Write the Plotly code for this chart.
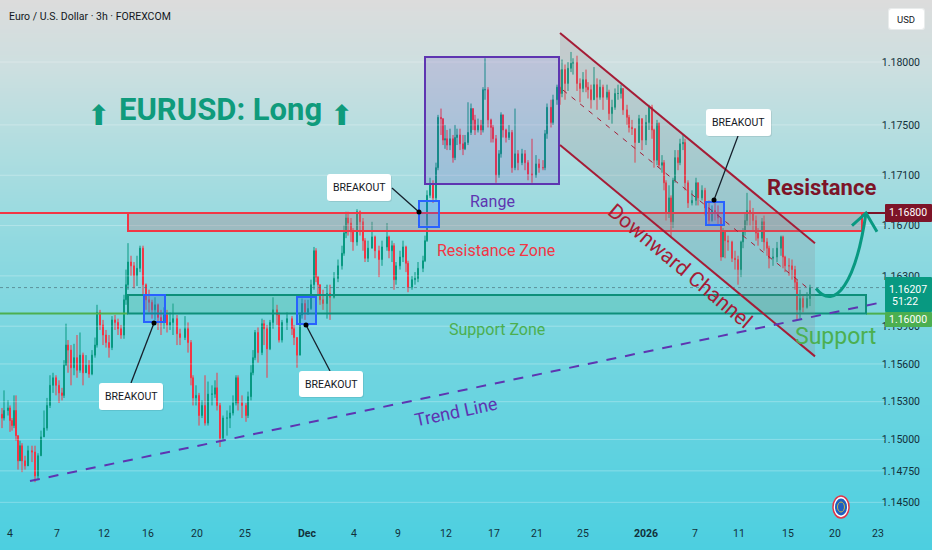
import plotly.graph_objects as go

W, H = 932, 550

# bar position along the time scale (one unit per screen pixel of the original)
bar_x = [2, 4, 8, 10, 12, 14, 16, 18, 20, 22, 25, 28, 32, 35, 38, 41, 44, 47, 50, 53,
         56, 59, 62, 64, 66, 68, 71, 74, 77, 80, 83, 86, 89, 92, 95, 97, 100, 103, 106, 109,
         112, 115, 118, 121, 124, 126, 128, 131, 134, 137, 140, 143, 146, 149, 152, 155, 158, 161, 164, 167,
         170, 173, 177, 180, 185, 188, 191, 193, 196, 199, 202, 205, 208, 212, 215, 217, 220, 223, 227, 230,
         233, 236, 238, 242, 246, 248, 251, 253, 255, 258, 262, 264, 267, 270, 273, 277, 279, 282, 287, 292,
         294, 297, 300, 302, 305, 308, 311, 314, 316, 318, 320, 323, 327, 330, 334, 338, 342, 344, 346, 348,
         351, 353, 357, 360, 363, 365, 368, 372, 375, 379, 382, 387, 389, 392, 394, 396, 400, 403, 406, 408,
         412, 415, 418, 423, 425, 427, 430, 433, 436, 438, 441, 443, 445, 447, 450, 453, 455, 457, 460, 463,
         465, 468, 471, 473, 475, 478, 481, 483, 485, 488, 491, 493, 496, 499, 501, 503, 506, 509, 512, 515,
         518, 522, 525, 528, 532, 536, 539, 543, 545, 547, 551, 553, 557, 560, 562, 565, 568, 571, 573, 577,
         580, 583, 586, 588, 591, 594, 597, 600, 603, 607, 609, 612, 615, 618, 621, 623, 627, 629, 632, 635,
         639, 642, 646, 649, 652, 654, 657, 659, 662, 664, 666, 669, 671, 673, 675, 678, 680, 683, 685, 688,
         692, 696, 698, 702, 705, 709, 712, 715, 718, 721, 723, 725, 728, 732, 735, 738, 741, 743, 745, 747,
         750, 753, 756, 758, 762, 764, 767, 769, 773, 777, 781, 783, 785, 789, 792, 795, 797, 800, 803, 807,
         810]

close = [1.1517, 1.1523, 1.1525, 1.1515, 1.1511, 1.1523, 1.1503, 1.1483, 1.1495, 1.1483, 1.1479, 1.1491, 1.1490, 1.1471, 1.1487, 1.1502, 1.1509, 1.1527, 1.1543, 1.1549,
         1.1543, 1.1537, 1.1535, 1.1559, 1.1575, 1.1571, 1.1557, 1.1565, 1.1555, 1.1567, 1.1553, 1.1559, 1.1552, 1.1567, 1.1575, 1.1601, 1.1591, 1.1583, 1.1577, 1.1573,
         1.1595, 1.1593, 1.1588, 1.1583, 1.1611, 1.1623, 1.1641, 1.1638, 1.1630, 1.1636, 1.1652, 1.1623, 1.1611, 1.1609, 1.1603, 1.1607, 1.1597, 1.1593, 1.1599, 1.1591,
         1.1593, 1.1596, 1.1584, 1.1581, 1.1588, 1.1577, 1.1549, 1.1533, 1.1535, 1.1519, 1.1527, 1.1513, 1.1536, 1.1536, 1.1541, 1.1527, 1.1501, 1.1517, 1.1517, 1.1521,
         1.1529, 1.1549, 1.1529, 1.1527, 1.1519, 1.1534, 1.1553, 1.1565, 1.1585, 1.1569, 1.1592, 1.1588, 1.1572, 1.1593, 1.1603, 1.1599, 1.1579, 1.1593, 1.1596, 1.1588,
         1.1581, 1.1567, 1.1599, 1.1608, 1.1601, 1.1604, 1.1623, 1.1650, 1.1629, 1.1623, 1.1611, 1.1608, 1.1616, 1.1613, 1.1628, 1.1638, 1.1648, 1.1664, 1.1676, 1.1672,
         1.1665, 1.1657, 1.1681, 1.1673, 1.1658, 1.1644, 1.1652, 1.1661, 1.1650, 1.1643, 1.1653, 1.1661, 1.1650, 1.1654, 1.1627, 1.1638, 1.1645, 1.1653, 1.1640, 1.1621,
         1.1627, 1.1628, 1.1636, 1.1642, 1.1658, 1.1694, 1.1703, 1.1692, 1.1716, 1.1756, 1.1755, 1.1738, 1.1739, 1.1734, 1.1739, 1.1724, 1.1740, 1.1742, 1.1735, 1.1731,
         1.1736, 1.1744, 1.1763, 1.1754, 1.1746, 1.1750, 1.1746, 1.1778, 1.1778, 1.1754, 1.1748, 1.1739, 1.1710, 1.1727, 1.1758, 1.1746, 1.1740, 1.1744, 1.1716, 1.1727,
         1.1720, 1.1727, 1.1720, 1.1711, 1.1710, 1.1719, 1.1716, 1.1716, 1.1743, 1.1764, 1.1752, 1.1770, 1.1780, 1.1775, 1.1794, 1.1783, 1.1795, 1.1799, 1.1800, 1.1783,
         1.1779, 1.1786, 1.1780, 1.1778, 1.1770, 1.1782, 1.1772, 1.1780, 1.1772, 1.1776, 1.1759, 1.1764, 1.1775, 1.1775, 1.1779, 1.1762, 1.1756, 1.1748, 1.1747, 1.1736,
         1.1755, 1.1738, 1.1752, 1.1764, 1.1746, 1.1722, 1.1751, 1.1718, 1.1720, 1.1704, 1.1680, 1.1692, 1.1673, 1.1706, 1.1724, 1.1720, 1.1735, 1.1736, 1.1704, 1.1688,
         1.1690, 1.1704, 1.1692, 1.1698, 1.1684, 1.1674, 1.1682, 1.1680, 1.1676, 1.1645, 1.1665, 1.1658, 1.1657, 1.1644, 1.1643, 1.1635, 1.1657, 1.1665, 1.1674, 1.1682,
         1.1680, 1.1674, 1.1664, 1.1660, 1.1673, 1.1657, 1.1652, 1.1644, 1.1645, 1.1652, 1.1661, 1.1645, 1.1638, 1.1638, 1.1635, 1.1625, 1.1603, 1.1612, 1.1605, 1.1612,
         1.16207]

high = [1.1525, 1.1539, 1.1531, 1.1527, 1.1517, 1.1535, 1.1535, 1.1499, 1.1499, 1.1497, 1.1487, 1.1495, 1.1495, 1.1495, 1.1489, 1.1507, 1.1523, 1.1533, 1.1551, 1.1553,
        1.1551, 1.1547, 1.1541, 1.1563, 1.1592, 1.1579, 1.1575, 1.1576, 1.1583, 1.1585, 1.1569, 1.1567, 1.1563, 1.1571, 1.1581, 1.1607, 1.1603, 1.1595, 1.1587, 1.1583,
        1.1598, 1.1599, 1.1596, 1.1591, 1.1615, 1.1635, 1.1656, 1.1646, 1.1641, 1.1646, 1.1654, 1.1654, 1.1624, 1.1619, 1.1611, 1.1613, 1.1608, 1.1603, 1.1605, 1.1603,
        1.1601, 1.1608, 1.1599, 1.1588, 1.1598, 1.1593, 1.1579, 1.1551, 1.1543, 1.1537, 1.1531, 1.1551, 1.1546, 1.1543, 1.1547, 1.1553, 1.1529, 1.1519, 1.1523, 1.1527,
        1.1535, 1.1551, 1.1551, 1.1535, 1.1529, 1.1538, 1.1559, 1.1571, 1.1587, 1.1589, 1.1596, 1.1595, 1.1591, 1.1595, 1.1613, 1.1607, 1.1601, 1.1595, 1.1601, 1.1598,
        1.1591, 1.1581, 1.1601, 1.1612, 1.1611, 1.1611, 1.1627, 1.1653, 1.1652, 1.1630, 1.1623, 1.1619, 1.1623, 1.1623, 1.1633, 1.1643, 1.1654, 1.1670, 1.1681, 1.1681,
        1.1676, 1.1668, 1.1683, 1.1682, 1.1676, 1.1660, 1.1658, 1.1673, 1.1662, 1.1654, 1.1658, 1.1672, 1.1662, 1.1658, 1.1656, 1.1641, 1.1650, 1.1658, 1.1654, 1.1642,
        1.1630, 1.1633, 1.1641, 1.1646, 1.1662, 1.1698, 1.1708, 1.1706, 1.1720, 1.1758, 1.1763, 1.1755, 1.1750, 1.1746, 1.1747, 1.1742, 1.1750, 1.1747, 1.1747, 1.1742,
        1.1742, 1.1768, 1.1767, 1.1763, 1.1758, 1.1755, 1.1754, 1.1780, 1.1803, 1.1780, 1.1755, 1.1750, 1.1742, 1.1730, 1.1760, 1.1758, 1.1747, 1.1750, 1.1746, 1.1763,
        1.1730, 1.1731, 1.1730, 1.1722, 1.1739, 1.1726, 1.1723, 1.1722, 1.1746, 1.1767, 1.1770, 1.1774, 1.1782, 1.1794, 1.1802, 1.1798, 1.1800, 1.1808, 1.1803, 1.1805,
        1.1787, 1.1792, 1.1794, 1.1784, 1.1782, 1.1796, 1.1787, 1.1786, 1.1782, 1.1782, 1.1778, 1.1770, 1.1779, 1.1782, 1.1782, 1.1779, 1.1766, 1.1758, 1.1754, 1.1747,
        1.1758, 1.1755, 1.1758, 1.1766, 1.1766, 1.1747, 1.1754, 1.1752, 1.1726, 1.1722, 1.1706, 1.1702, 1.1694, 1.1708, 1.1730, 1.1730, 1.1739, 1.1742, 1.1739, 1.1706,
        1.1698, 1.1708, 1.1702, 1.1702, 1.1700, 1.1690, 1.1686, 1.1690, 1.1686, 1.1670, 1.1668, 1.1665, 1.1662, 1.1658, 1.1650, 1.1646, 1.1658, 1.1668, 1.1680, 1.1696,
        1.1690, 1.1684, 1.1678, 1.1668, 1.1676, 1.1678, 1.1660, 1.1654, 1.1652, 1.1657, 1.1662, 1.1662, 1.1646, 1.1644, 1.1643, 1.1638, 1.1627, 1.1619, 1.1615, 1.1617,
        1.1623]

low = [1.1509, 1.1515, 1.1519, 1.1506, 1.1507, 1.1509, 1.1499, 1.1476, 1.1487, 1.1474, 1.1476, 1.1482, 1.1482, 1.1466, 1.1468, 1.1487, 1.1502, 1.1507, 1.1525, 1.1537,
       1.1535, 1.1529, 1.1531, 1.1533, 1.1559, 1.1553, 1.1543, 1.1551, 1.1549, 1.1553, 1.1543, 1.1553, 1.1549, 1.1551, 1.1565, 1.1573, 1.1587, 1.1575, 1.1573, 1.1565,
       1.1571, 1.1587, 1.1583, 1.1580, 1.1580, 1.1607, 1.1619, 1.1630, 1.1620, 1.1622, 1.1633, 1.1615, 1.1603, 1.1601, 1.1596, 1.1595, 1.1587, 1.1583, 1.1588, 1.1585,
       1.1587, 1.1583, 1.1575, 1.1575, 1.1579, 1.1569, 1.1543, 1.1527, 1.1527, 1.1511, 1.1517, 1.1511, 1.1511, 1.1527, 1.1533, 1.1523, 1.1494, 1.1499, 1.1503, 1.1509,
       1.1519, 1.1527, 1.1523, 1.1517, 1.1514, 1.1517, 1.1531, 1.1551, 1.1563, 1.1561, 1.1567, 1.1575, 1.1549, 1.1571, 1.1588, 1.1591, 1.1577, 1.1577, 1.1587, 1.1583,
       1.1575, 1.1557, 1.1567, 1.1596, 1.1595, 1.1599, 1.1603, 1.1619, 1.1625, 1.1615, 1.1607, 1.1603, 1.1596, 1.1595, 1.1612, 1.1625, 1.1635, 1.1646, 1.1660, 1.1662,
       1.1657, 1.1650, 1.1654, 1.1662, 1.1650, 1.1641, 1.1641, 1.1652, 1.1644, 1.1629, 1.1638, 1.1650, 1.1644, 1.1641, 1.1619, 1.1623, 1.1635, 1.1641, 1.1633, 1.1617,
       1.1619, 1.1623, 1.1625, 1.1633, 1.1641, 1.1657, 1.1692, 1.1688, 1.1690, 1.1714, 1.1742, 1.1734, 1.1731, 1.1730, 1.1730, 1.1720, 1.1722, 1.1734, 1.1730, 1.1726,
       1.1730, 1.1734, 1.1742, 1.1746, 1.1742, 1.1744, 1.1742, 1.1744, 1.1770, 1.1748, 1.1736, 1.1736, 1.1704, 1.1708, 1.1724, 1.1740, 1.1736, 1.1738, 1.1712, 1.1714,
       1.1714, 1.1718, 1.1714, 1.1706, 1.1704, 1.1708, 1.1712, 1.1714, 1.1714, 1.1739, 1.1748, 1.1750, 1.1766, 1.1766, 1.1772, 1.1770, 1.1777, 1.1792, 1.1790, 1.1777,
       1.1768, 1.1776, 1.1776, 1.1771, 1.1763, 1.1770, 1.1762, 1.1770, 1.1762, 1.1770, 1.1754, 1.1751, 1.1762, 1.1770, 1.1771, 1.1758, 1.1750, 1.1744, 1.1742, 1.1720,
       1.1738, 1.1730, 1.1734, 1.1746, 1.1739, 1.1716, 1.1718, 1.1716, 1.1712, 1.1698, 1.1674, 1.1676, 1.1661, 1.1668, 1.1704, 1.1714, 1.1718, 1.1730, 1.1698, 1.1684,
       1.1686, 1.1686, 1.1686, 1.1690, 1.1678, 1.1670, 1.1673, 1.1674, 1.1670, 1.1642, 1.1650, 1.1644, 1.1650, 1.1641, 1.1635, 1.1623, 1.1629, 1.1652, 1.1662, 1.1670,
       1.1670, 1.1665, 1.1658, 1.1654, 1.1657, 1.1650, 1.1646, 1.1636, 1.1638, 1.1641, 1.1646, 1.1636, 1.1633, 1.1630, 1.1627, 1.1619, 1.1595, 1.1596, 1.1601, 1.1604,
       1.1606]

first_open = 1.1520
open_ = [first_open] + close[:-1]

y_ticks = [1.18, 1.175, 1.171, 1.167, 1.163, 1.159, 1.156, 1.153, 1.15, 1.1475, 1.145]
x_tick_pos = [10, 57, 104, 148, 197, 245, 307, 354, 398, 446, 494, 537, 583, 646, 695, 739, 788, 835, 878]
x_tick_text = ['4', '7', '12', '16', '20', '25', '<b>Dec</b>', '4', '9', '12', '17', '21', '25',
               '<b>2026</b>', '7', '11', '15', '20', '23']

bg_stops = [[0.0, '#dcdcdc'], [0.12, '#cddfe0'], [0.28, '#aedde0'], [0.45, '#8fd9e0'],
            [0.65, '#72d5e0'], [0.82, '#5fd2e0'], [1.0, '#4ccfe0']]

RED = '#f23645'
TEAL = '#089981'
GREEN = '#4caf50'
PURPLE = '#5e35b1'
BLUE = '#2962ff'
DARK_RED = '#a51c36'
MAROON = '#7d1428'
SMALL_FONT = 'Roboto, sans-serif'
TEXT_FONT = 'Roboto, sans-serif'

fig = go.Figure()

# background, a vertical wash behind everything
fig.add_trace(go.Heatmap(x=[0, W], y=[1.14121, 1.18493], z=[[1, 1], [0, 0]],
                         colorscale=bg_stops, showscale=False, zsmooth='best', hoverinfo='skip'))

fig.add_trace(go.Candlestick(x=bar_x, open=open_, high=high, low=low, close=close,
                             whiskerwidth=0,
                             increasing=dict(line=dict(color=TEAL, width=1), fillcolor=TEAL),
                             decreasing=dict(line=dict(color=RED, width=1), fillcolor=RED),
                             showlegend=False))

shapes = []
annotations = []


def line(x0, y0, x1, y1, color, width=1, dash='solid'):
    shapes.append(dict(type='line', x0=x0, y0=y0, x1=x1, y1=y1, xref='x', yref='y',
                       line=dict(color=color, width=width, dash=dash)))


def rect(x0, y0, x1, y1, color, fill, width=2):
    shapes.append(dict(type='rect', x0=x0, y0=y0, x1=x1, y1=y1, xref='x', yref='y',
                       line=dict(color=color, width=width), fillcolor=fill))


def note(text, px, py, size, color, font=TEXT_FONT, angle=0, xanchor='center'):
    # px, py are in screen pixels, top left origin
    annotations.append(dict(text=text, x=px / W, y=1 - py / H, xref='paper', yref='paper',
                            showarrow=False, textangle=angle, xanchor=xanchor, yanchor='middle',
                            font=dict(size=size, color=color, family=font)))


def fx(px):
    return px / W


def fy(py):
    return 1 - py / H


def round_box(x0, y0, x1, y1, fill, r=3):
    path = (f'M {fx(x0 + r)} {fy(y0)} L {fx(x1 - r)} {fy(y0)} Q {fx(x1)} {fy(y0)} {fx(x1)} {fy(y0 + r)} '
            f'L {fx(x1)} {fy(y1 - r)} Q {fx(x1)} {fy(y1)} {fx(x1 - r)} {fy(y1)} '
            f'L {fx(x0 + r)} {fy(y1)} Q {fx(x0)} {fy(y1)} {fx(x0)} {fy(y1 - r)} '
            f'L {fx(x0)} {fy(y0 + r)} Q {fx(x0)} {fy(y0)} {fx(x0 + r)} {fy(y0)} Z')
    shapes.append(dict(type='path', path=path, xref='paper', yref='paper', fillcolor=fill,
                       line=dict(width=0)))


def circle(cx, cy, rx, ry, fill, edge=None, width=0):
    shapes.append(dict(type='circle', x0=fx(cx - rx), x1=fx(cx + rx), y0=fy(cy + ry), y1=fy(cy - ry),
                       xref='paper', yref='paper', fillcolor=fill,
                       line=dict(color=edge or fill, width=width)))


def breakout(x0, y0, x1, y1, lx0, ly0, dot_x, dot_y):
    shapes.append(dict(type='line', x0=fx(lx0), y0=fy(ly0), x1=fx(dot_x), y1=fy(dot_y),
                       xref='paper', yref='paper', line=dict(color='#16202c', width=1.3)))
    circle(dot_x, dot_y, 2.5, 2.5, '#000000')
    round_box(x0 + 1, y0 + 1, x1 + 1, y1 + 1, 'rgba(0,0,0,0.08)')
    round_box(x0, y0, x1, y1, '#ffffff')
    note('BREAKOUT', (x0 + x1) / 2, (y0 + y1) / 2, 10.5, '#131722', SMALL_FONT)


# grid, stops where the price scale begins
for tick in y_ticks:
    line(0, tick, 885, tick, 'rgba(255,255,255,0.28)')

# last price
line(0, 1.16207, 885, 1.16207, 'rgba(70,110,120,0.65)', 1, 'dot')

# resistance and support zones
line(0, 1.168, 866, 1.168, RED, 2)
line(866, 1.168, 888, 1.168, MAROON, 2)
rect(128, 1.168, 862, 1.16657, RED, 'rgba(170,130,135,0.34)')
line(0, 1.16, 128, 1.16, GREEN, 2)
line(866, 1.16, 888, 1.16, GREEN, 2)
rect(128, 1.16148, 866, 1.16, '#0e8f7a', 'rgba(60,175,140,0.25)')

# range box
rect(425, 1.1804, 559, 1.1703, PURPLE, 'rgba(103,58,183,0.17)')

# downward channel
shapes.append(dict(type='path', xref='x', yref='y', line=dict(width=0), fillcolor='rgba(140,120,125,0.19)',
                   path='M 560 1.1823 L 815 1.1656 L 815 1.1566 L 560 1.1734 Z'))
line(560, 1.1823, 815, 1.1656, DARK_RED, 2)
line(560, 1.1734, 815, 1.1566, DARK_RED, 2)
line(563, 1.17777, 810, 1.16188, DARK_RED, 1, '5px,6px')

# trend line
line(30, 1.14669, 878, 1.16084, PURPLE, 2, '10px,9px')

# breakout boxes
rect(144, 1.16148, 165, 1.15933, BLUE, 'rgba(41,98,255,0.22)')
rect(297, 1.16132, 316, 1.15917, BLUE, 'rgba(41,98,255,0.22)')
rect(419, 1.16895, 439, 1.16688, BLUE, 'rgba(41,98,255,0.22)')
rect(706, 1.16887, 724, 1.16704, BLUE, 'rgba(41,98,255,0.22)')

# projected move
shapes.append(dict(type='path', xref='x', yref='y', line=dict(color=TEAL, width=3),
                   path='M 816 1.1620 C 835 1.1601 856 1.1625 866 1.1680'))
shapes.append(dict(type='path', xref='x', yref='y', line=dict(color=TEAL, width=3),
                   path='M 852 1.1670 L 866 1.1680 L 877 1.1665'))

breakout(99, 383, 163, 410, 131, 383, 154, 323)
breakout(299, 371, 363, 397, 330, 371, 306, 325)
breakout(327, 174, 391, 201, 392, 188, 419, 212)
breakout(706, 109, 771, 136, 738, 136, 714, 200)

# euro badge
circle(841, 507, 8, 11, '#ffffff', '#e0364a', 1.5)
circle(841, 507, 6, 8.5, '#1f5fc0')
circle(841, 507, 3.5, 5, 'rgba(0,0,0,0)', '#c9b84a', 1)

# price scale boxes
round_box(885, 204, 932, 222, MAROON, 1)
round_box(885, 277, 932, 312, TEAL, 1)
round_box(885, 312, 932, 327, GREEN, 1)
note('1.16800', 908, 213, 10.5, '#ffffff', SMALL_FONT)
note('1.16207', 908, 289, 10.5, '#ffffff', SMALL_FONT)
note('51:22', 905, 301, 10.5, '#ffffff', SMALL_FONT)
note('1.16000', 908, 319, 10.5, '#ffffff', SMALL_FONT)

# USD box
round_box(888, 8, 925, 30, '#e9ecec', 3)
round_box(889, 9, 924, 29, '#ffffff', 3)
note('USD', 906, 19, 9.5, '#131722', SMALL_FONT)

note('Euro / U.S. Dollar · 3h · FOREXCOM', 7, 17, 10.5, '#131722', SMALL_FONT, xanchor='left')
note('<b>EURUSD: Long</b>', 220, 110, 31, '#0f9b7c')
note('⬆', 98, 115, 28, '#0f9b7c', 'DejaVu Sans')
note('⬆', 341, 115, 28, '#0f9b7c', 'DejaVu Sans')
note('Range', 492, 202, 16, PURPLE)
note('Resistance Zone', 496, 250, 16, RED)
note('Support Zone', 497, 329, 16, GREEN)
note('Trend Line', 456, 411, 18, PURPLE, angle=-12)
note('Downward Channel', 680, 266, 21, DARK_RED, angle=40)
note('<b>Resistance</b>', 821, 187, 22, MAROON)
note('Support', 835, 336, 23, GREEN)

fig.update_layout(
    width=W, height=H, autosize=False,
    margin=dict(l=0, r=0, t=0, b=0),
    paper_bgcolor='#7fd8e0', plot_bgcolor='#7fd8e0',
    showlegend=False,
    shapes=shapes, annotations=annotations,
    font=dict(family=SMALL_FONT),
)
fig.update_xaxes(range=[0, W], rangeslider_visible=False, showgrid=False, zeroline=False,
                 tickmode='array', tickvals=x_tick_pos, ticktext=x_tick_text,
                 ticklabelposition='inside', ticks='', ticklabelstandoff=8,
                 tickfont=dict(size=10.5, color='#12303a', family=SMALL_FONT))
fig.update_yaxes(range=[1.14121, 1.18493], side='right', showgrid=False, zeroline=False,
                 tickmode='array', tickvals=y_ticks, tickformat='.5f',
                 ticklabelposition='inside', ticks='', ticklabelstandoff=9,
                 tickfont=dict(size=10.5, color='#12303a', family=SMALL_FONT))

fig.write_html("out.html", post_script="document.body.style.margin='0';",
               config=dict(displayModeBar=False))
